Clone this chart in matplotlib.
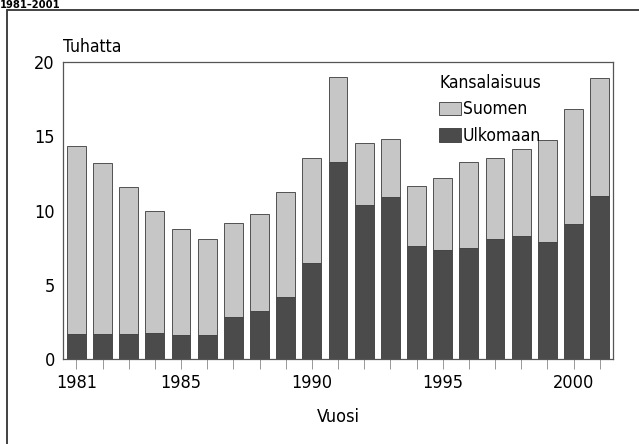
import matplotlib
matplotlib.use("Agg")
import matplotlib.pyplot as plt
from matplotlib.patches import Rectangle

plt.rcParams['font.family'] = ['DejaVu Sans']
plt.rcParams['font.stretch'] = 'condensed'

years = list(range(1981, 2002))
ulkomaan = [1.66, 1.7, 1.7, 1.77, 1.62, 1.6, 2.8, 3.25, 4.2, 6.5, 13.25,
            10.4, 10.9, 7.63, 7.32, 7.5, 8.1, 8.3, 7.92, 9.11, 11.02]
total = [14.34, 13.2, 11.6, 9.97, 8.75, 8.08, 9.16, 9.76, 11.25, 13.55, 19.0,
         14.55, 14.8, 11.63, 12.21, 13.27, 13.54, 14.16, 14.75, 16.88, 18.92]
suomen = [t - u for t, u in zip(total, ulkomaan)]
label_years = [1981, 1985, 1990, 1995, 2000]
yticks = [0, 5, 10, 15, 20]

light = '#c6c6c6'
dark = '#4b4b4b'
edge = '#3a3a3a'

fig = plt.figure(figsize=(6.39, 4.44), dpi=100)
ax = fig.add_axes([63.3/639, 1-359/444, (613.3-63.3)/639, (359-62.3)/444])

ax.bar(years, ulkomaan, width=0.72, color=dark, edgecolor=edge, linewidth=0.6, label='Ulkomaan', zorder=2)
ax.bar(years, suomen, width=0.72, bottom=ulkomaan, color=light, edgecolor=edge, linewidth=0.6, label='Suomen', zorder=2)

ax.set_xlim(1980.5, 2001.52)
ax.set_ylim(0, 20)
ax.set_yticks(yticks)
ax.set_xticks(years)
ax.set_xticklabels([str(y) if y in label_years else '' for y in years])
ax.tick_params(axis='x', length=7, width=0.6, color='#888888', labelsize=13, pad=4)
ax.tick_params(axis='y', length=0, labelsize=13, pad=6)
for s in ax.spines.values():
    s.set_color('#555555')
    s.set_linewidth(0.9)

ax.text(0.0, 1.02, 'Tuhatta', transform=ax.transAxes, fontsize=12.5, ha='left', va='bottom')
ax.set_xlabel('Vuosi', fontsize=13, labelpad=11)

h, l = ax.get_legend_handles_labels()
leg = ax.legend(h[::-1], l[::-1], title='Kansalaisuus', loc='upper left',
                bbox_to_anchor=(0.67, 0.985), frameon=False, fontsize=12.5,
                title_fontsize=12.5, handlelength=1.3, handleheight=0.8,
                handletextpad=0.1, labelspacing=0.5, borderaxespad=0)

fig.patches.append(Rectangle((7/639, -0.05), 1.0, 1 - 10/444 + 0.05,
                             transform=fig.transFigure, fill=False,
                             edgecolor='#333333', linewidth=1.3))
fig.text(0.0, 1.0, '1981–2001', fontsize=8, fontweight='bold', ha='left', va='top')

fig.savefig('out.png', dpi=100)
